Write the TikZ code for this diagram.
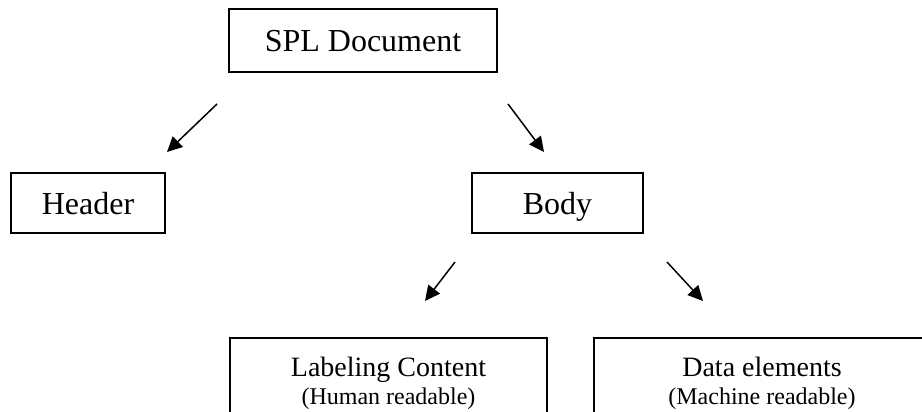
\documentclass[tikz,border=0pt]{standalone}
\usepackage{fontspec}
\setmainfont{Liberation Serif}
\usetikzlibrary{arrows.meta}

\begin{document}
\begin{tikzpicture}[x=1pt, y=-1pt,
  box/.style={draw, line width=1.6pt, inner sep=0pt, text height=22pt, text depth=0pt,
              font=\fontsize{32}{36}\selectfont},
  leafbox/.style={draw, line width=1.6pt, align=center, anchor=north, inner xsep=0pt,
                  inner ysep=18.9pt, font=\fontsize{28}{28}\selectfont},
  arrow/.style={line width=1.5pt, -{Triangle[length=15pt, width=14.5pt]}}]

\useasboundingbox (0,0) rectangle (922,412);
\clip (0,0) rectangle (922,412);

% tree nodes
\node[box, minimum width=268pt, minimum height=63pt] (spl) at (363,40.5) {SPL Document};
\node[box, minimum width=154pt, minimum height=60pt] (header) at (88,203) {Header};
\node[box, minimum width=171pt, minimum height=60pt] (body) at (557.5,203) {Body};
\node[leafbox, minimum width=317pt] (label) at (388.5,337)
  {Labeling Content\\{\fontsize{24}{28}\selectfont (Human readable)}};
\node[leafbox, minimum width=336pt] (data) at (762,337)
  {Data elements\\{\fontsize{24}{28}\selectfont (Machine readable)}};

% free-standing arrow ends between the levels
\coordinate (h1) at (217,104);  \coordinate (h2) at (167,152);
\coordinate (b1) at (508,104);  \coordinate (b2) at (544,152);
\coordinate (l1) at (455,262);  \coordinate (l2) at (425,301);
\coordinate (d1) at (667,262);  \coordinate (d2) at (703,301);

\draw[arrow] (h1) -- (h2);
\draw[arrow] (b1) -- (b2);
\draw[arrow] (l1) -- (l2);
\draw[arrow] (d1) -- (d2);
\end{tikzpicture}
\end{document}
